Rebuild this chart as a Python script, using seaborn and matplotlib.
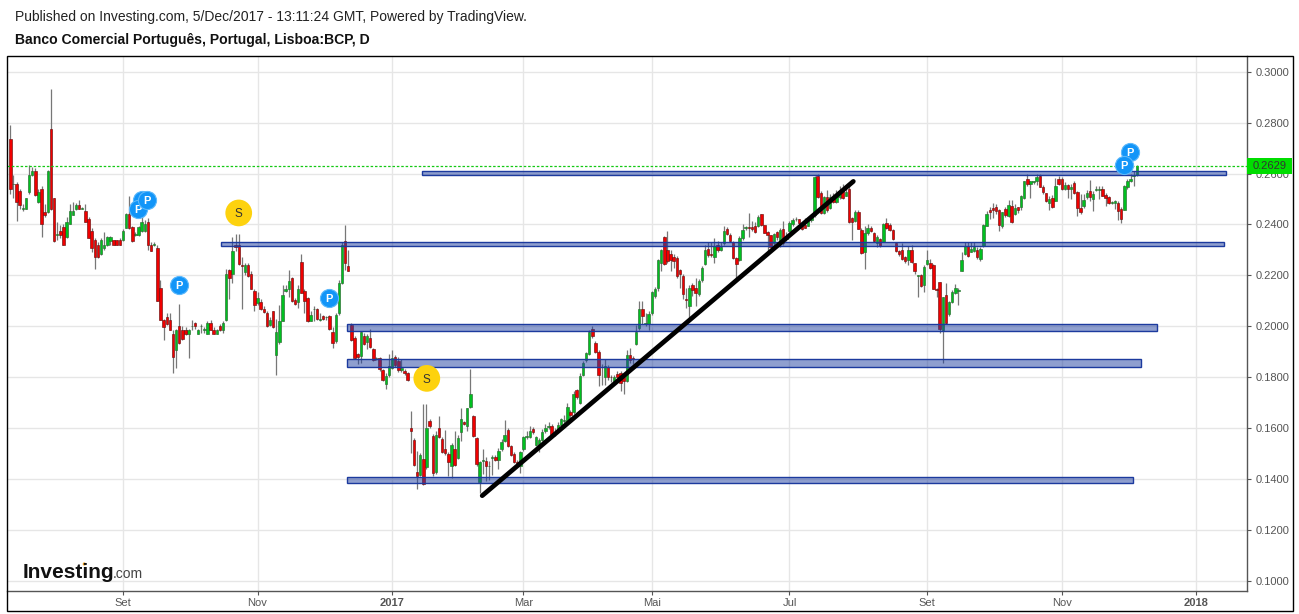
import matplotlib
matplotlib.use("Agg")
import matplotlib.pyplot as plt
from matplotlib.patches import Rectangle, Circle
import pandas as pd
import seaborn as sns

# daily candles, one value per bar
opens = [
    .2734, .2557, .2557, .2531, .2462, .2462, .2528, .2593, .2609, .2489,
    .2541, .2449, .2449, .2773, .2502, .2359, .2376, .2388, .2349, .2401,
    .2438, .2461, .2478, .2462, .2451, .2423, .2376, .2337, .2321, .2282,
    .2308, .2320, .2335, .2337, .2337, .2337, .2337, .2386, .2439, .2388,
    .2360, .2360, .2376, .2376, .2410, .2321, .2321, .2309, .2152, .2025,
    .2037, .2025, .1971, .1908, .1999, .1987, .1987, .1971, .1999, .2011,
    .1971, .1999, .1987, .1971, .2011, .1987, .1971, .1999, .1987, .2025,
    .2220, .2207, .2320, .2321, .2240, .2214, .2240, .2207, .2140, .2092,
    .2097, .2068, .2050, .2005, .2058, .1888, .1936, .2021, .2139, .2148,
    .2190, .2102, .2096, .2254, .2140, .2111, .2021, .2066, .2066, .2024,
    .2040, .2035, .2040, .1979, .1942, .2052, .2168, .2333, .2236, .2005,
    .1954, .1891, .1882, .1962, .1937, .1954, .1911, .1874, .1876, .1826,
    .1772, .1807, .1835, .1880, .1864, .1827, .1823, .1817, .1601, .1551,
    .1427, .1414, .1480, .1447, .1629, .1569, .1426, .1600, .1557, .1518,
    .1498, .1452, .1518, .1483, .1583, .1623, .1606, .1682, .1648, .1561,
    .1386, .1472, .1471, .1450, .1483, .1487, .1473, .1517, .1548, .1593,
    .1528, .1498, .1467, .1452, .1517, .1565, .1565, .1597, .1535, .1528,
    .1552, .1587, .1604, .1608, .1580, .1598, .1611, .1629, .1627, .1663,
    .1662, .1750, .1697, .1807, .1866, .1890, .1990, .1934, .1898, .1840,
    .1800, .1840, .1800, .1783, .1813, .1817, .1800, .1784, .1887, .1876,
    .1929, .1992, .2068, .2010, .2009, .2051, .2118, .2150, .2249, .2351,
    .2299, .2285, .2273, .2269, .2219, .2198, .2105, .2079, .2161, .2151,
    .2128, .2180, .2245, .2303, .2285, .2272, .2318, .2299, .2327, .2382,
    .2359, .2330, .2269, .2262, .2346, .2387, .2387, .2391, .2393, .2395,
    .2439, .2396, .2372, .2357, .2325, .2369, .2325, .2380, .2341, .2375,
    .2401, .2420, .2420, .2397, .2397, .2395, .2417, .2437, .2591, .2522,
    .2446, .2509, .2465, .2506, .2489, .2506, .2538, .2513, .2541, .2424,
    .2414, .2450, .2378, .2290, .2367, .2384, .2365, .2325, .2341, .2332,
    .2404, .2396, .2378, .2325, .2296, .2299, .2270, .2262, .2299, .2247,
    .2197, .2201, .2160, .2243, .2247, .2239, .2148, .2172, .1985, .2121,
    .2046, .2096, .2129, .2139, .2218, .2282, .2317, .2293, .2297, .2298,
    .2265, .2315, .2395, .2456, .2463, .2468, .2456, .2395, .2460, .2434,
    .2472, .2441, .2467, .2467, .2503, .2577, .2557, .2568, .2572, .2591,
    .2548, .2522, .2485, .2502, .2493, .2577, .2577, .2540, .2553, .2538,
    .2561, .2526, .2463, .2473, .2506, .2531, .2500, .2535, .2535, .2538,
    .2515, .2506, .2486, .2485, .2485, .2462, .2458, .2547, .2569, .2590,
    .2595,
]
highs = [
    .2790, .2593, .2565, .2541, .2482, .2502, .2633, .2626, .2620, .2541,
    .2550, .2482, .2612, .2931, .2505, .2410, .2397, .2403, .2430, .2482,
    .2489, .2485, .2497, .2470, .2480, .2430, .2385, .2345, .2330, .2345,
    .2370, .2355, .2355, .2340, .2340, .2345, .2382, .2445, .2510, .2395,
    .2372, .2392, .2430, .2418, .2425, .2330, .2332, .2318, .2180, .2030,
    .2050, .2050, .1985, .1990, .2089, .2000, .1995, .1990, .2026, .2015,
    .1990, .2010, .1995, .2020, .2026, .1995, .1990, .2010, .2020, .2225,
    .2225, .2350, .2362, .2362, .2270, .2250, .2250, .2215, .2145, .2135,
    .2105, .2078, .2060, .2035, .2060, .2027, .2085, .2160, .2160, .2220,
    .2195, .2110, .2160, .2285, .2145, .2115, .2060, .2078, .2070, .2050,
    .2045, .2040, .2045, .1995, .2050, .2180, .2330, .2398, .2301, .2013,
    .1960, .1895, .1980, .1975, .1968, .1990, .1915, .1878, .1880, .1830,
    .1815, .1890, .1905, .1885, .1878, .1870, .1830, .1820, .1665, .1560,
    .1510, .1500, .1696, .1696, .1635, .1575, .1590, .1649, .1565, .1591,
    .1505, .1540, .1590, .1574, .1680, .1628, .1680, .1832, .1650, .1565,
    .1470, .1518, .1485, .1470, .1495, .1495, .1520, .1555, .1633, .1600,
    .1535, .1505, .1475, .1510, .1570, .1590, .1607, .1605, .1570, .1560,
    .1595, .1615, .1625, .1615, .1600, .1625, .1640, .1650, .1700, .1670,
    .1745, .1755, .1815, .1862, .1900, .1985, .2000, .1940, .1905, .1850,
    .1872, .1848, .1808, .1810, .1825, .1825, .1810, .1905, .1915, .1882,
    .2005, .2098, .2100, .2050, .2060, .2140, .2155, .2265, .2305, .2355,
    .2376, .2300, .2285, .2275, .2225, .2205, .2150, .2160, .2170, .2190,
    .2185, .2235, .2320, .2330, .2330, .2345, .2335, .2330, .2395, .2390,
    .2365, .2335, .2272, .2355, .2400, .2395, .2445, .2415, .2410, .2435,
    .2440, .2398, .2375, .2360, .2365, .2375, .2385, .2414, .2370, .2415,
    .2425, .2430, .2422, .2400, .2424, .2425, .2440, .2590, .2600, .2530,
    .2512, .2535, .2520, .2525, .2535, .2550, .2560, .2550, .2550, .2430,
    .2455, .2455, .2385, .2395, .2400, .2395, .2370, .2360, .2345, .2405,
    .2425, .2405, .2382, .2330, .2300, .2325, .2275, .2315, .2320, .2250,
    .2200, .2205, .2240, .2299, .2265, .2245, .2150, .2175, .2115, .2168,
    .2100, .2142, .2165, .2150, .2290, .2330, .2330, .2330, .2330, .2310,
    .2310, .2400, .2452, .2470, .2485, .2480, .2462, .2450, .2470, .2495,
    .2495, .2480, .2470, .2515, .2572, .2597, .2572, .2572, .2600, .2600,
    .2555, .2525, .2510, .2515, .2581, .2590, .2585, .2565, .2560, .2560,
    .2570, .2530, .2520, .2520, .2535, .2574, .2530, .2550, .2550, .2550,
    .2525, .2510, .2490, .2495, .2490, .2470, .2555, .2580, .2600, .2610,
    .2635,
]
lows = [
    .2519, .2502, .2414, .2459, .2453, .2462, .2519, .2590, .2510, .2485,
    .2351, .2430, .2445, .2455, .2330, .2340, .2345, .2320, .2345, .2400,
    .2436, .2458, .2462, .2460, .2410, .2345, .2290, .2225, .2268, .2280,
    .2300, .2315, .2320, .2318, .2318, .2318, .2335, .2385, .2380, .2330,
    .2355, .2355, .2372, .2370, .2300, .2296, .2315, .2098, .2025, .1945,
    .2005, .1985, .1815, .1835, .1930, .1945, .1965, .1875, .1985, .1990,
    .1968, .1975, .1975, .1968, .1985, .1968, .1968, .1980, .1975, .2020,
    .2105, .2170, .2295, .2240, .2068, .2200, .2195, .2145, .2060, .2085,
    .2065, .2050, .1998, .2000, .1992, .1807, .1932, .2020, .2135, .2115,
    .2095, .2085, .2070, .2130, .2050, .2015, .2020, .2020, .2025, .2020,
    .2025, .2025, .1985, .1915, .1935, .2045, .2165, .2220, .2215, .1940,
    .1872, .1850, .1855, .1925, .1910, .1915, .1862, .1868, .1825, .1785,
    .1755, .1800, .1830, .1840, .1822, .1820, .1810, .1785, .1502, .1450,
    .1361, .1410, .1375, .1440, .1600, .1410, .1420, .1560, .1500, .1495,
    .1413, .1405, .1450, .1478, .1548, .1612, .1590, .1680, .1566, .1450,
    .1345, .1420, .1390, .1395, .1415, .1470, .1440, .1510, .1545, .1525,
    .1490, .1462, .1445, .1425, .1510, .1555, .1560, .1578, .1530, .1505,
    .1550, .1580, .1595, .1565, .1570, .1590, .1605, .1620, .1620, .1625,
    .1655, .1715, .1695, .1805, .1860, .1885, .1955, .1895, .1764, .1770,
    .1770, .1790, .1780, .1778, .1795, .1745, .1734, .1780, .1855, .1850,
    .1925, .1985, .2010, .2000, .1985, .2045, .2110, .2140, .2215, .2240,
    .2250, .2215, .2230, .2190, .2150, .2105, .2072, .2020, .2120, .2080,
    .2120, .2175, .2240, .2270, .2270, .2250, .2290, .2295, .2320, .2360,
    .2330, .2265, .2190, .2255, .2340, .2378, .2350, .2375, .2365, .2390,
    .2392, .2365, .2286, .2290, .2310, .2340, .2310, .2320, .2335, .2370,
    .2395, .2415, .2400, .2378, .2385, .2392, .2410, .2430, .2505, .2440,
    .2440, .2450, .2460, .2485, .2485, .2500, .2500, .2510, .2405, .2338,
    .2410, .2380, .2285, .2223, .2360, .2370, .2330, .2310, .2310, .2330,
    .2380, .2375, .2340, .2292, .2275, .2262, .2250, .2240, .2250, .2205,
    .2116, .2155, .2135, .2240, .2225, .2145, .2116, .1975, .1856, .2010,
    .2040, .2090, .2125, .2083, .2215, .2278, .2270, .2290, .2290, .2265,
    .2255, .2310, .2392, .2420, .2425, .2440, .2375, .2385, .2430, .2430,
    .2405, .2435, .2445, .2455, .2500, .2550, .2505, .2560, .2555, .2545,
    .2520, .2488, .2455, .2465, .2490, .2555, .2535, .2535, .2502, .2500,
    .2520, .2434, .2440, .2465, .2500, .2490, .2454, .2530, .2500, .2510,
    .2473, .2480, .2480, .2460, .2417, .2405, .2455, .2540, .2565, .2550,
    .2590,
]
closes = [
    .2541, .2559, .2489, .2476, .2463, .2502, .2593, .2609, .2517, .2528,
    .2400, .2438, .2609, .2462, .2335, .2361, .2360, .2320, .2410, .2451,
    .2451, .2478, .2462, .2462, .2410, .2348, .2308, .2270, .2270, .2337,
    .2321, .2349, .2349, .2320, .2320, .2320, .2376, .2439, .2386, .2335,
    .2360, .2388, .2410, .2400, .2320, .2296, .2321, .2100, .2025, .1997,
    .2010, .1987, .1880, .1987, .1935, .1948, .1969, .1987, .1999, .1999,
    .1987, .1999, .1987, .2011, .1987, .1971, .1987, .1987, .2011, .2207,
    .2191, .2297, .2310, .2245, .2238, .2240, .2199, .2147, .2084, .2109,
    .2068, .2056, .2001, .2026, .1995, .1979, .2021, .2124, .2148, .2176,
    .2100, .2089, .2148, .2131, .2100, .2021, .2045, .2066, .2030, .2024,
    .2030, .2035, .1990, .1935, .2045, .2168, .2320, .2249, .2218, .1945,
    .1874, .1878, .1976, .1929, .1962, .1917, .1866, .1874, .1831, .1788,
    .1806, .1843, .1874, .1847, .1827, .1836, .1815, .1790, .1588, .1454,
    .1413, .1494, .1379, .1600, .1607, .1424, .1573, .1564, .1505, .1500,
    .1465, .1534, .1456, .1561, .1636, .1616, .1679, .1735, .1568, .1459,
    .1467, .1472, .1450, .1450, .1483, .1473, .1510, .1545, .1572, .1528,
    .1493, .1465, .1452, .1506, .1565, .1565, .1590, .1583, .1565, .1551,
    .1585, .1600, .1604, .1572, .1581, .1612, .1636, .1629, .1683, .1650,
    .1735, .1721, .1805, .1856, .1895, .1978, .1961, .1898, .1807, .1838,
    .1843, .1800, .1799, .1801, .1801, .1777, .1783, .1886, .1866, .1872,
    .1979, .2066, .2039, .2011, .2048, .2135, .2147, .2259, .2299, .2245,
    .2255, .2261, .2255, .2197, .2204, .2126, .2103, .2151, .2143, .2131,
    .2177, .2229, .2299, .2278, .2279, .2317, .2299, .2312, .2373, .2364,
    .2334, .2269, .2245, .2347, .2378, .2387, .2386, .2383, .2371, .2429,
    .2396, .2367, .2359, .2310, .2361, .2352, .2378, .2328, .2353, .2404,
    .2417, .2420, .2404, .2383, .2387, .2417, .2433, .2585, .2509, .2443,
    .2506, .2456, .2506, .2489, .2515, .2532, .2502, .2528, .2408, .2410,
    .2447, .2383, .2289, .2365, .2384, .2375, .2336, .2352, .2315, .2400,
    .2384, .2378, .2344, .2296, .2282, .2266, .2257, .2299, .2253, .2218,
    .2197, .2159, .2231, .2262, .2227, .2148, .2144, .1989, .2113, .2014,
    .2097, .2135, .2152, .2139, .2262, .2317, .2277, .2304, .2310, .2270,
    .2302, .2396, .2439, .2448, .2455, .2454, .2397, .2447, .2437, .2476,
    .2409, .2463, .2456, .2511, .2569, .2557, .2569, .2568, .2587, .2548,
    .2527, .2492, .2498, .2469, .2549, .2560, .2538, .2553, .2540, .2548,
    .2524, .2463, .2448, .2496, .2522, .2506, .2518, .2535, .2535, .2513,
    .2505, .2485, .2486, .2490, .2454, .2420, .2549, .2572, .2577, .2593,
    .2629,
]

# axis ticks, bar number of the first trading day of each label
tick_bars = [36, 79, 122, 164, 205, 249, 293, 336, 379]
tick_labels = ["Set", "Nov", "2017", "Mar", "Mai", "Jul", "Set", "Nov", "2018"]
price_ticks = [.10, .12, .14, .16, .18, .20, .22, .24, .26, .28, .30]
last_price = .2629

# drawn support/resistance boxes
zone_start = [131.6, 67.3, 107.6, 107.6, 107.6]
zone_end = [388.5, 387.9, 366.5, 361.4, 358.8]
zone_low = [.2593, .2314, .1983, .1840, .1384]
zone_high = [.2608, .2331, .2009, .1871, .1407]

# hand drawn trend line
trend_bars = [150.8, 269.4]
trend_prices = [.1334, .2569]

# P and S event bubbles, later ones sit on top
p_bars = [42.0, 40.9, 43.8, 54.0, 101.9, 357.9, 356.0]
p_prices = [.2494, .2460, .2496, .2162, .2111, .2684, .2633]
s_bars = [73.0, 133.1]
s_prices = [.2445, .1795]

GRID = "#e6e6e6"
TEXT = "#555555"

sns.set_theme(style="white")
plt.rcParams["font.family"] = ["Liberation Sans", "DejaVu Sans"]

df = pd.DataFrame({"open": opens, "high": highs, "low": lows, "close": closes})
df["bar"] = df.index
df["body"] = (df["close"] - df["open"]).abs().clip(lower=.00025)
df["bottom"] = df[["open", "close"]].min(axis=1)
up = df[df["close"] >= df["open"]]
down = df[df["close"] < df["open"]]

W, H = 1299, 614
fig = plt.figure(figsize=(W / 100, H / 100), dpi=100, facecolor="white")
ax = fig.add_axes([7 / W, (H - 590.7) / H, (1247.3 - 7) / W, (590.7 - 56) / H])

# candles
ax.vlines(df["bar"], df["low"], df["high"], color="#777777", lw=0.9, zorder=2)
ax.bar(up["bar"], up["body"], bottom=up["bottom"], width=0.78, color="#00c020",
       edgecolor="#2a6b30", lw=0.45, zorder=3)
ax.bar(down["bar"], down["body"], bottom=down["bottom"], width=0.78, color="#f00000",
       edgecolor="#6e1010", lw=0.45, zorder=3)

# zones sit over the candles, half transparent
for x0, x1, y0, y1 in zip(zone_start, zone_end, zone_low, zone_high):
    ax.add_patch(Rectangle((x0, y0), x1 - x0, y1 - y0, facecolor="#2040a0", alpha=0.5,
                           edgecolor="none", zorder=4))
    ax.add_patch(Rectangle((x0, y0), x1 - x0, y1 - y0, fill=False, edgecolor="#1c3a9e",
                           lw=1.0, zorder=4))

sns.lineplot(x=trend_bars, y=trend_prices, ax=ax, color="black", lw=3.4, estimator=None,
             zorder=5)
ax.axhline(last_price, color="#14c814", lw=0.9, ls=(0, (2, 1.5)), zorder=4)

# event bubbles
sns.scatterplot(x=s_bars, y=s_prices, ax=ax, s=370, color="#fdd20e", edgecolor="none",
                zorder=6)
for x, y in zip(s_bars, s_prices):
    ax.text(x, y, "S", color="#333333", fontsize=8.5, ha="center",
            va="center_baseline", zorder=7)
for i, (x, y) in enumerate(zip(p_bars, p_prices)):
    sns.scatterplot(x=[x], y=[y], ax=ax, s=170, color="#1295f8", edgecolor="#5cb8fb",
                    lw=0.8, zorder=8 + 2 * i)
    ax.text(x, y, "P", color="white", fontsize=8, fontweight="bold", ha="center",
            va="center_baseline", zorder=9 + 2 * i)

ax.set_xlim(-1.05, 395.3)
ax.set_ylim(.09607, .30617)
ax.set_xticks(tick_bars)
ax.set_xticklabels(tick_labels)
ax.set_yticks(price_ticks)
ax.set_yticklabels([f"{p:.4f}" for p in price_ticks])
ax.yaxis.tick_right()
ax.tick_params(axis="both", colors=TEXT, labelsize=8, length=3, width=0.8, pad=3,
               bottom=True, right=True)
ax.tick_params(axis="x", pad=2)
for lab in ax.get_xticklabels():
    if lab.get_text() in ("2017", "2018"):
        lab.set_fontweight("bold")
ax.grid(True, color=GRID, lw=1.0)
ax.set_axisbelow(True)
for side in ("left", "top"):
    ax.spines[side].set_visible(False)
for side in ("right", "bottom"):
    ax.spines[side].set_color("#555555")
    ax.spines[side].set_linewidth(1.0)

# last price tag on the price axis
tag = ax.get_yaxis_transform()
ax.add_patch(Rectangle((1, .2600), 45 / 1240.3, .0062, transform=tag, facecolor="#00dd00",
                       edgecolor="none", clip_on=False, zorder=30))
ax.text(1 + 22.5 / 1240.3, last_price, f"{last_price:.4f}", transform=tag, color="#333333",
        fontsize=8, ha="center", va="center", clip_on=False, zorder=31)

# outer frame and header
fig.add_artist(Rectangle((6.5 / W, (H - 610.7) / H), (1292.5 - 6.5) / W, (610.7 - 56) / H,
                         transform=fig.transFigure, fill=False, edgecolor="black", lw=1.0))
fig.text(15 / W, 1 - 17 / H, "Published on Investing.com, 5/Dec/2017 - 13:11:24 GMT, Powered by TradingView.",
         fontsize=10, color="#222222", va="center")
fig.text(15 / W, 1 - 40 / H, "Banco Comercial Português, Portugal, Lisboa:BCP, D",
         fontsize=10.1, fontweight="bold", color="#111111", va="center")

# logo
fig.text(23 / W, 1 - 578 / H, "Investing", fontsize=15, fontweight="bold", color="#111111",
         va="baseline")
fig.text(113 / W, 1 - 578 / H, ".com", fontsize=10, color="#444444", va="baseline")
fig.add_artist(Circle((84.3, H - 564), 1.6, transform=None, facecolor="#f5a623", edgecolor="none"))

fig.savefig("out.png", dpi=100)
